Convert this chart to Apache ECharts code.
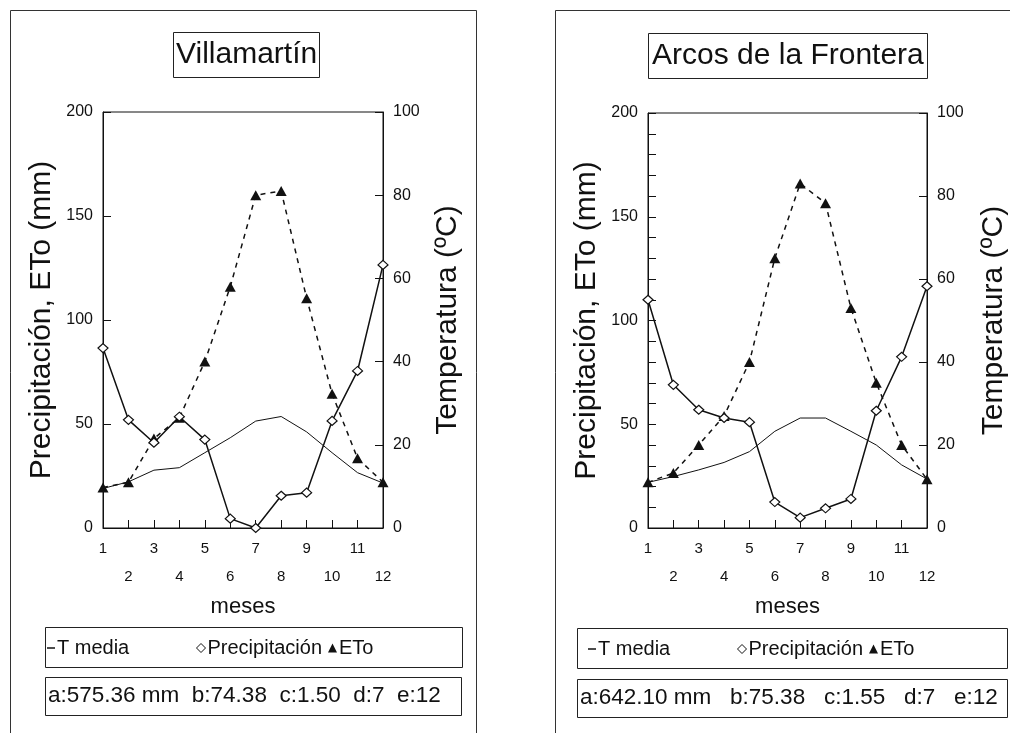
<!DOCTYPE html>
<html>
<head>
<meta charset="utf-8">
<style>
html,body{margin:0;padding:0;background:#fff;}
#c{width:1010px;height:733px;}
</style>
<script src="https://cdn.jsdelivr.net/npm/echarts@6/dist/echarts.min.js"></script>
</head>
<body>
<div id="c"></div>
<script>
var months = [1,2,3,4,5,6,7,8,9,10,11,12];
var xTickLabels = ['1','2','3','4','5','6','7','8','9','10','11','12'];
var leftAxisTicks = [0,50,100,150,200];
var rightAxisTicks = [0,20,40,60,80,100];

// Villamartín
var villaTitle = 'Villamartín';
var villaTmedia = [9.5,11.1,13.9,14.5,18.1,21.7,25.7,26.8,23.1,18.1,13.3,10.8];
var villaPrecip = [86.5,52,41,53.5,42.5,4.5,0,15.5,17,51.5,75.5,126.5];
var villaETo = [19.5,22,43,53,80,116,160,162,110.5,64.5,33.5,22];
var villaStats = 'a:575.36 mm  b:74.38  c:1.50  d:7  e:12';

// Arcos de la Frontera
var arcosTitle = 'Arcos de la Frontera';
var arcosTmedia = [11,12.4,14,15.8,18.4,23.3,26.5,26.5,23.3,20,15.2,11.8];
var arcosPrecip = [110,69,57,53,51,12.5,5,9.5,14,56.5,82.5,116.5];
var arcosETo = [22,26.5,40,54,80,130,166,156.5,106,70,40,23.5];
var arcosStats = 'a:642.10 mm   b:75.38   c:1.55   d:7   e:12';

var seriesNames = ['T media','Precipitación','ETo'];
var yNameLeft = 'Precipitación, ETo (mm)';
var yNameRight = 'Temperatura (ºC)';
var xName = 'meses';

var FONT = '"Liberation Sans", Arial, sans-serif';
var INK = '#111';

function pairs(arr){ return months.map(function(m,i){ return [m, arr[i]]; }); }

function xAxisDef(gridIndex){
  return {
    type:'value', gridIndex:gridIndex, min:1, max:12, interval:1,
    name:xName, nameLocation:'middle', nameGap:66,
    nameTextStyle:{fontFamily:FONT, fontSize:22, color:INK},
    axisLine:{show:true, lineStyle:{color:INK, width:1}},
    axisTick:{show:true, inside:true, length:8, lineStyle:{color:INK}},
    splitLine:{show:false},
    axisLabel:{
      margin:7, fontFamily:FONT, fontSize:15, color:INK, lineHeight:28,
      formatter:function(v){ var s = xTickLabels[v-1]; return (v % 2 === 1) ? s : '\n' + s; }
    }
  };
}
function yLeftDef(gridIndex, minor, gap){
  return {
    type:'value', gridIndex:gridIndex, position:'left',
    min:leftAxisTicks[0], max:leftAxisTicks[leftAxisTicks.length-1], interval:leftAxisTicks[1]-leftAxisTicks[0],
    name:yNameLeft, nameLocation:'middle', nameGap:gap, nameRotate:90,
    nameTextStyle:{fontFamily:FONT, fontSize:30, color:INK},
    axisLine:{show:true, lineStyle:{color:INK, width:1}},
    axisTick:{show:true, inside:true, length:8, lineStyle:{color:INK}},
    minorTick:{show:minor, splitNumber:5, length:8, lineStyle:{color:INK}},
    splitLine:{show:false},
    axisLabel:{margin:10, fontFamily:FONT, fontSize:16, color:INK}
  };
}
function yRightDef(gridIndex, gap){
  return {
    type:'value', gridIndex:gridIndex, position:'right',
    min:rightAxisTicks[0], max:rightAxisTicks[rightAxisTicks.length-1], interval:rightAxisTicks[1]-rightAxisTicks[0],
    name:yNameRight, nameLocation:'middle', nameGap:gap, nameRotate:90,
    nameTextStyle:{fontFamily:FONT, fontSize:30, color:INK},
    axisLine:{show:true, lineStyle:{color:INK, width:1}},
    axisTick:{show:true, inside:true, length:8, lineStyle:{color:INK}},
    splitLine:{show:false},
    axisLabel:{margin:10, fontFamily:FONT, fontSize:16, color:INK}
  };
}
function seriesFor(idx, tm, pr, et){
  return [
    {name:seriesNames[0], type:'line', xAxisIndex:idx, yAxisIndex:idx*2+1, data:pairs(tm),
     showSymbol:false, symbol:'none', lineStyle:{color:INK, width:1}, z:2, animation:false},
    {name:seriesNames[2], type:'line', xAxisIndex:idx, yAxisIndex:idx*2, data:pairs(et),
     symbol:'triangle', symbolSize:[11,10], itemStyle:{color:INK},
     lineStyle:{color:INK, width:1.5, type:[5,5]}, z:3, animation:false},
    {name:seriesNames[1], type:'line', xAxisIndex:idx, yAxisIndex:idx*2, data:pairs(pr),
     symbol:'diamond', symbolSize:[10,9], itemStyle:{color:'#fff', borderColor:INK, borderWidth:1.2},
     lineStyle:{color:INK, width:1.5}, z:4, animation:false}
  ];
}
function legendDef(left, top, items, w, h){
  return {
    left:left, top:top, orient:'horizontal', padding:0, itemGap:6,
    itemWidth:w, itemHeight:h,
    textStyle:{fontFamily:FONT, fontSize:20, color:INK, padding:[0,0,0,-3]},
    data:items
  };
}
var legTm = {name:seriesNames[0], icon:'rect', itemStyle:{color:INK, borderWidth:0}};
var legPr = {name:seriesNames[1], icon:'diamond', itemStyle:{color:'#fff', borderColor:INK, borderWidth:1}};
var legEt = {name:seriesNames[2], icon:'triangle', itemStyle:{color:INK, borderWidth:0}};

var chart = echarts.init(document.getElementById('c'), null, {renderer:'canvas'});
var option = {
  backgroundColor:'#fff',
  animation:false,
  title:[
    {text:villaTitle, left:173, top:32, padding:[3,3,3,3], borderWidth:1, borderColor:'#222',
     textStyle:{fontFamily:FONT, fontSize:30, fontWeight:'normal', color:INK, lineHeight:40}},
    {text:arcosTitle, left:648, top:33, padding:[3,4,3,4], borderWidth:1, borderColor:'#222',
     textStyle:{fontFamily:FONT, fontSize:30, fontWeight:'normal', color:INK, lineHeight:40}}
  ],
  grid:[
    {left:103, right:627, top:112, bottom:205, show:true, borderColor:INK, borderWidth:1, backgroundColor:'transparent'},
    {left:648, right:82, top:113, bottom:205, show:true, borderColor:INK, borderWidth:1, backgroundColor:'transparent'}
  ],
  xAxis:[xAxisDef(0), xAxisDef(1)],
  yAxis:[yLeftDef(0,false,46), yRightDef(0,50), yLeftDef(1,true,46), yRightDef(1,52)],
  legend:[
    legendDef(47, 638, [legTm], 8, 1.5),
    legendDef(196, 638, [legPr, legEt], 9, 9),
    legendDef(588, 639, [legTm], 8, 1.5),
    legendDef(737, 639, [legPr, legEt], 9, 9)
  ],
  tooltip:{show:false},
  series:[].concat(seriesFor(0, villaTmedia, villaPrecip, villaETo), seriesFor(1, arcosTmedia, arcosPrecip, arcosETo)),
  graphic:[
    {type:'rect', shape:{x:10.5, y:10.5, width:466, height:740}, style:{fill:null, stroke:'#333', lineWidth:1}, silent:true, z:-1},
    {type:'rect', shape:{x:555.5, y:10.5, width:470, height:740}, style:{fill:null, stroke:'#333', lineWidth:1}, silent:true, z:-1},
    {type:'rect', shape:{x:45.5, y:627.5, width:417, height:40}, style:{fill:null, stroke:'#222', lineWidth:1}, silent:true},
    {type:'rect', shape:{x:45.5, y:677.5, width:416, height:38}, style:{fill:null, stroke:'#222', lineWidth:1}, silent:true},
    {type:'rect', shape:{x:577.5, y:628.5, width:430, height:40}, style:{fill:null, stroke:'#222', lineWidth:1}, silent:true},
    {type:'rect', shape:{x:577.5, y:679.5, width:430, height:38}, style:{fill:null, stroke:'#222', lineWidth:1}, silent:true},
    {type:'text', left:48, top:684, style:{text:villaStats, fontFamily:FONT, fontSize:22.5, fill:INK}},
    {type:'text', left:580, top:686, style:{text:arcosStats, fontFamily:FONT, fontSize:22.5, fill:INK}}
  ]
};
chart.setOption(option);
</script>
</body>
</html>
